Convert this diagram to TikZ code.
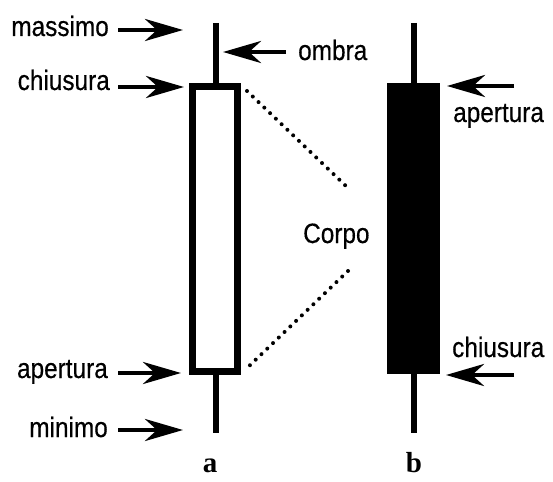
\documentclass[tikz,border=0pt]{standalone}
\usepackage{fontspec}
\setmainfont{Liberation Sans}[FakeStretch=0.87,FakeBold=0.4]
\newfontfamily\labfont{Liberation Serif}
\usetikzlibrary{arrows.meta}
\begin{document}
\begin{tikzpicture}[x=1pt,y=-1pt,
  lbl/.style={font=\fontsize{28}{28}\selectfont, inner sep=0pt},
  ptr/.style={line width=4.5pt, -{Stealth[length=38pt,width=22pt,inset=12pt]}},
  wick/.style={line width=6pt},
  dots/.style={line width=4pt, line cap=round, dash pattern=on 0pt off 8pt},
  letter/.style={font=\fontsize{29}{29}\selectfont, inner sep=0pt}]
\useasboundingbox (0,0) rectangle (553,481);
% candle a
\coordinate (atop) at (216,23);
\coordinate (abot) at (216,433);
\draw[wick] (atop) -- (216,86);
\draw[wick] (216,372) -- (abot);
\node[draw, line width=7pt, minimum width=45pt, minimum height=285pt, inner sep=0pt, fill=white] (boxa) at (215,229) {};
% candle b
\coordinate (btop) at (414,23);
\coordinate (bbot) at (414,433);
\draw[wick] (btop) -- (bbot);
\node[fill=black, minimum width=53pt, minimum height=291pt, inner sep=0pt] (boxb) at (413.5,228.5) {};
% labels
\node[lbl, anchor=base east] (massimo) at (109,36) {massimo};
\node[lbl, anchor=base east] (chiusA) at (110,90) {chiusura};
\node[lbl, anchor=base east] (apertA) at (108,378) {apertura};
\node[lbl, anchor=base east] (minimo) at (108,437) {minimo};
\node[lbl, anchor=base west] (ombra) at (298,60) {ombra};
\node[lbl, anchor=base west] (apertB) at (453,122) {apertura};
\node[lbl, anchor=base west] (chiusB) at (452,357) {chiusura};
\node[lbl, anchor=base west] (corpo) at (303,243) {Corpo};
% arrow endpoints
\coordinate (m1) at (118,30); \coordinate (m2) at (183,30);
\coordinate (c1) at (118,87); \coordinate (c2) at (184,87);
\coordinate (o1) at (286,52); \coordinate (o2) at (223,52);
\coordinate (a1) at (118,373); \coordinate (a2) at (181,373);
\coordinate (n1) at (118,430); \coordinate (n2) at (183,430);
\coordinate (ab1) at (514,86); \coordinate (ab2) at (447,86);
\coordinate (cb1) at (514,375); \coordinate (cb2) at (446,375);
\draw[ptr] (m1) -- (m2);
\draw[ptr] (c1) -- (c2);
\draw[ptr] (o1) -- (o2);
\draw[ptr] (a1) -- (a2);
\draw[ptr] (n1) -- (n2);
\draw[ptr] (ab1) -- (ab2);
\draw[ptr] (cb1) -- (cb2);
% dotted body lines
\coordinate (d1) at (247,91); \coordinate (d2) at (348,188);
\coordinate (d3) at (348,271); \coordinate (d4) at (245,370);
\draw[dots] (d1) -- (d2);
\draw[dots] (d3) -- (d4);
% letters
\node[letter, anchor=base] (la) at (210,472) {\labfont\bfseries a};
\node[letter, anchor=base] (lb) at (414,472) {\labfont\bfseries b};
\end{tikzpicture}
\end{document}
